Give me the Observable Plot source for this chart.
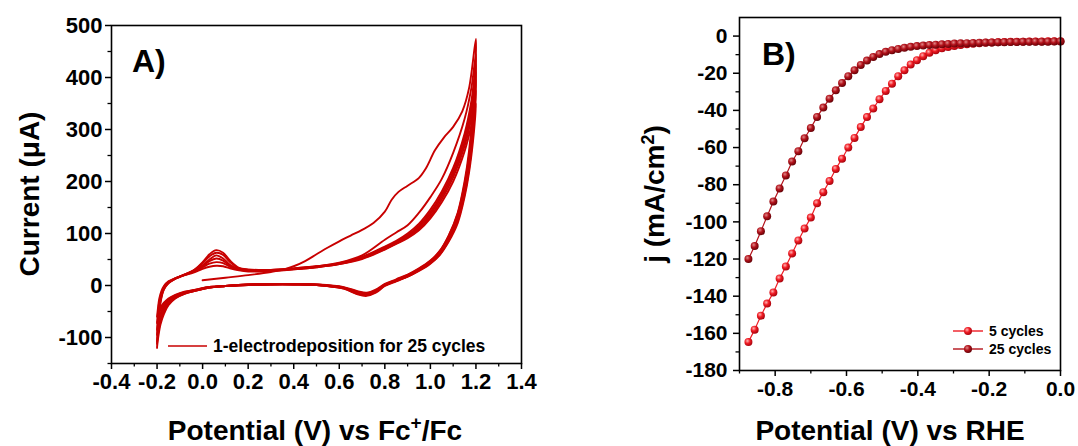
<!DOCTYPE html>
<html><head><meta charset="utf-8">
<script src="https://cdn.jsdelivr.net/npm/d3@7"></script>
<script src="https://cdn.jsdelivr.net/npm/@observablehq/plot@0.6"></script>
<style>
body{margin:0;background:#fff;}
#wrap{position:relative;width:1078px;height:446px;overflow:hidden;background:#fff;}
#wrap svg{position:absolute;}
</style></head><body><div id="wrap"></div>
<script>
// ---------- Panel A: CV electrodeposition (Current µA vs Potential V vs Fc+/Fc) ----------
const xTicksA = [-0.4, -0.2, 0.0, 0.2, 0.4, 0.6, 0.8, 1.0, 1.2, 1.4];
const xMinorA = [-0.3, -0.1, 0.1, 0.3, 0.5, 0.7, 0.9, 1.1, 1.3];
const yTicksA = [-100, 0, 100, 200, 300, 400, 500];
const yMinorA = [-150, -50, 50, 150, 250, 350, 450];

// first anodic scan (starts at 0.0 V) and its return
const cvFirstPotential = [0.0, 0.1, 0.2, 0.3, 0.35, 0.4, 0.45, 0.5, 0.55, 0.6, 0.65, 0.7, 0.75, 0.8, 0.83, 0.86, 0.9, 0.95, 0.98, 1.02, 1.06, 1.1, 1.14, 1.17, 1.2,
  1.19, 1.17, 1.15, 1.12, 1.08, 1.04, 1.0, 0.95, 0.9, 0.85, 0.8, 0.76, 0.72, 0.68, 0.62, 0.5, 0.4, 0.3, 0.2, 0.1, 0.03, -0.03, -0.08, -0.12, -0.15, -0.17, -0.185, -0.195, -0.2];
const cvFirstCurrent = [10, 15, 20, 26, 30, 37, 47, 60, 73, 85, 96, 107, 120, 142, 165, 180, 192, 207, 225, 260, 285, 305, 335, 380, 474,
  360, 260, 200, 140, 96, 66, 48, 33, 21, 12, 3, -8, -14, -11, -3, 2, 3, 3, 2, -1, -4, -10, -16, -24, -36, -52, -70, -92, -112];

// potential sweep of one full later cycle (-0.2 -> 1.2 -> -0.2)
const loopPotential = [-0.2, -0.195, -0.19, -0.18, -0.17, -0.15, -0.12, -0.08, -0.04, 0.0, 0.03, 0.06, 0.09, 0.12, 0.16, 0.2, 0.3, 0.4, 0.5, 0.6, 0.7, 0.8, 0.85, 0.9, 0.95, 1.0, 1.05, 1.1, 1.15, 1.18, 1.2,
  1.19, 1.17, 1.15, 1.12, 1.08, 1.04, 1.0, 0.95, 0.9, 0.85, 0.8, 0.76, 0.72, 0.68, 0.62, 0.5, 0.4, 0.3, 0.2, 0.1, 0.03, -0.03, -0.08, -0.12, -0.15, -0.17, -0.185, -0.195, -0.2];
const cycleACurrent = [-120, -75, -48, -22, -8, 4, 13, 21, 29, 45, 60, 68, 63, 48, 34, 31, 30, 33, 37, 44, 58, 88, 102, 116, 140, 170, 205, 255, 320, 380, 445,
  345, 250, 195, 138, 95, 65, 47, 32, 20, 11, 2, -10, -15, -12, -4, 2, 3, 3, 2, -1, -4, -10, -16, -25, -38, -55, -75, -100, -118];
const cycleBCurrent = [-108, -70, -45, -20, -7, 5, 13, 21, 29, 43, 56, 63, 59, 45, 33, 30, 30, 33, 37, 43, 55, 75, 86, 100, 119, 146, 181, 226, 292, 355, 425,
  335, 245, 190, 134, 92, 63, 46, 31, 19, 10, 1, -11, -16, -13, -4, 2, 3, 3, 2, -1, -4, -10, -15, -23, -34, -48, -66, -88, -106];
const cycleCCurrent = [-95, -62, -40, -18, -6, 5, 13, 21, 28, 39, 50, 58, 52, 40, 32, 30, 29, 32, 36, 42, 54, 73, 84, 97, 115, 141, 176, 220, 284, 345, 410,
  325, 238, 185, 130, 90, 62, 45, 30, 18, 10, 1, -11, -17, -14, -5, 1, 2, 2, 2, -1, -4, -9, -14, -21, -31, -43, -58, -76, -94];
const cycleDCurrent = [-85, -56, -36, -16, -5, 6, 13, 20, 27, 37, 47, 52, 48, 38, 31, 29, 29, 32, 36, 42, 53, 72, 83, 95, 112, 137, 171, 214, 276, 335, 395,
  315, 232, 180, 127, 88, 60, 44, 30, 18, 9, 0, -12, -18, -15, -5, 1, 2, 2, 1, -1, -3, -9, -14, -20, -29, -40, -53, -68, -84];
const cycleECurrent = [-72, -48, -30, -13, -3, 7, 14, 20, 26, 35, 42, 45, 43, 36, 30, 28, 28, 31, 35, 41, 52, 70, 81, 93, 109, 133, 166, 208, 268, 322, 375,
  305, 225, 175, 124, 86, 59, 43, 29, 17, 9, 0, -13, -19, -16, -6, 1, 2, 2, 1, -1, -3, -8, -13, -19, -27, -36, -47, -58, -70];
const cycleFCurrent = [-60, -40, -25, -10, -1, 8, 14, 20, 25, 32, 36, 38, 37, 33, 29, 27, 28, 31, 35, 41, 51, 69, 80, 91, 106, 129, 160, 200, 258, 308, 350,
  290, 218, 170, 120, 84, 58, 42, 28, 17, 8, -1, -14, -20, -17, -6, 1, 2, 2, 1, -1, -3, -8, -12, -18, -25, -33, -42, -52, -60];

// ---------- Panel B: LSV (j mA/cm2 vs Potential V vs RHE) ----------
const xTicksB = [-0.8, -0.6, -0.4, -0.2, 0.0];
const xMinorB = [-0.9, -0.7, -0.5, -0.3, -0.1];
const yTicksB = [-180, -160, -140, -120, -100, -80, -60, -40, -20, 0];
const yMinorB = [-170, -150, -130, -110, -90, -70, -50, -30, -10];
const lsvPotential = [-0.875, -0.8575, -0.84, -0.8225, -0.805, -0.7875, -0.77, -0.7525, -0.735, -0.7175,
  -0.7, -0.6825, -0.665, -0.6475, -0.63, -0.6125, -0.595, -0.5775, -0.56, -0.5425,
  -0.525, -0.5075, -0.49, -0.4725, -0.455, -0.4375, -0.42, -0.4025, -0.385, -0.3675,
  -0.35, -0.3325, -0.315, -0.2975, -0.28, -0.2625, -0.245, -0.2275, -0.21, -0.1925,
  -0.175, -0.1575, -0.14, -0.1225, -0.105, -0.0875, -0.07, -0.0525, -0.035, -0.0175, 0];
const j5Cycles = [-164.7, -158, -150.5, -144, -138, -130.5, -124, -117, -110, -103.6,
  -97.7, -90, -84, -78, -71.5, -66, -60, -54.8, -49, -43.6,
  -39, -34, -29.5, -25.6, -21.6, -18.4, -15.3, -13, -10.8, -9,
  -7.6, -6.6, -5.9, -5.3, -4.8, -4.4, -4.1, -3.8, -3.6, -3.4,
  -3.3, -3.2, -3.1, -3.0, -3.0, -2.9, -2.9, -2.9, -2.8, -2.8, -2.8];
const j25Cycles = [-120, -113, -105, -97, -89, -82, -75, -67.5, -62, -55,
  -49.5, -43.5, -38.5, -33.7, -29.2, -25.2, -21.6, -18.4, -15.5, -13.2,
  -11.2, -9.7, -8.5, -7.6, -6.9, -6.3, -5.8, -5.4, -5.1, -4.8,
  -4.6, -4.4, -4.2, -4.0, -3.9, -3.8, -3.7, -3.6, -3.5, -3.4,
  -3.3, -3.3, -3.2, -3.2, -3.1, -3.1, -3.0, -3.0, -3.0, -2.9, -2.9];

const seriesNames = ["5 cycles", "25 cycles"];
const cvColor = "#c80000";
const color5 = "#ee1c24", color25 = "#b3121b";

// ---------- build tables ----------
const cvRows = [];
cvFirstPotential.forEach((p, i) => cvRows.push({cycle: "first", potential: p, current: cvFirstCurrent[i]}));
[["A", cycleACurrent], ["B", cycleBCurrent], ["C", cycleCCurrent], ["D", cycleDCurrent], ["E", cycleECurrent], ["F", cycleFCurrent]]
  .forEach(([name, arr]) => loopPotential.forEach((p, i) => cvRows.push({cycle: name, potential: p, current: arr[i]})));

const lsvRows = [];
lsvPotential.forEach((p, i) => lsvRows.push({series: seriesNames[0], potential: p, j: j5Cycles[i]}));
lsvPotential.forEach((p, i) => lsvRows.push({series: seriesNames[1], potential: p, j: j25Cycles[i]}));

const FONT = "'Liberation Sans', Arial, Helvetica, sans-serif";
const wrap = document.getElementById("wrap");

const fmt1 = d => d.toFixed(1);
const fmt0 = d => String(d);

const plotA = Plot.plot({
  width: 540, height: 446,
  marginLeft: 111, marginRight: 19, marginTop: 25, marginBottom: 83,
  x: {domain: [-0.4, 1.4], label: null},
  y: {domain: [-150, 500], label: null},
  style: {fontFamily: FONT, fontWeight: "bold", fontSize: "22px", color: "#000", background: "transparent", overflow: "visible"},
  marks: [
    Plot.line(cvRows, {x: "potential", y: "current", z: "cycle", stroke: cvColor, strokeWidth: 1.9, curve: "catmull-rom"}),
    Plot.frame({stroke: "#000", strokeWidth: 1.6}),
    Plot.axisX(xTicksA, {tickSize: 6, tickPadding: 4, tickFormat: fmt1, strokeWidth: 1.5, label: null}),
    Plot.axisX(xMinorA, {tickSize: 3.5, tickFormat: () => "", strokeWidth: 1.3, label: null}),
    Plot.axisY(yTicksA, {tickSize: 6, tickPadding: 3, tickFormat: fmt0, strokeWidth: 1.5, label: null}),
    Plot.axisY(yMinorA, {tickSize: 3.5, tickFormat: () => "", strokeWidth: 1.3, label: null})
  ]
});
plotA.style.left = "0px"; plotA.style.top = "0px";
wrap.appendChild(plotA);

const plotB = Plot.plot({
  width: 538, height: 446,
  marginLeft: 199, marginRight: 18, marginTop: 17, marginBottom: 76,
  x: {domain: [-0.9, 0.0], label: null},
  y: {domain: [-180, 10], label: null},
  style: {fontFamily: FONT, fontWeight: "bold", fontSize: "21px", color: "#000", background: "transparent", overflow: "visible"},
  marks: [
    Plot.line(lsvRows, {x: "potential", y: "j", z: "series", stroke: d => d.series === seriesNames[0] ? color5 : color25, strokeWidth: 1.2}),
    Plot.dot(lsvRows.filter(d => d.series === seriesNames[0]), {x: "potential", y: "j", r: 4, fill: "url(#sph5)", stroke: "none"}),
    Plot.dot(lsvRows.filter(d => d.series === seriesNames[1]), {x: "potential", y: "j", r: 4, fill: "url(#sph25)", stroke: "none"}),
    Plot.frame({stroke: "#000", strokeWidth: 1.6}),
    Plot.axisX(xTicksB, {tickSize: 6, tickPadding: 5, tickFormat: fmt1, strokeWidth: 1.5, label: null}),
    Plot.axisX(xMinorB, {tickSize: 3.5, tickFormat: () => "", strokeWidth: 1.3, label: null}),
    Plot.axisY(yTicksB, {tickSize: 6, tickPadding: 6, tickFormat: fmt0, strokeWidth: 1.5, label: null}),
    Plot.axisY(yMinorB, {tickSize: 3.5, tickFormat: () => "", strokeWidth: 1.3, label: null})
  ]
});
plotB.style.left = "540px"; plotB.style.top = "0px";
wrap.appendChild(plotB);

// overlay: gradients, panel letters, axis titles, legends
const NS = "http://www.w3.org/2000/svg";
const ov = document.createElementNS(NS, "svg");
ov.setAttribute("width", 1078); ov.setAttribute("height", 446);
ov.style.left = "0px"; ov.style.top = "0px";
ov.setAttribute("font-family", FONT);
ov.setAttribute("font-weight", "bold");
ov.innerHTML = `
<defs>
  <radialGradient id="sph5" cx="0.38" cy="0.35" r="0.7">
    <stop offset="0" stop-color="#ffb4b4"/><stop offset="0.45" stop-color="#f01c24"/><stop offset="1" stop-color="#a0000a"/>
  </radialGradient>
  <radialGradient id="sph25" cx="0.38" cy="0.35" r="0.7">
    <stop offset="0" stop-color="#e08a8a"/><stop offset="0.45" stop-color="#b3121b"/><stop offset="1" stop-color="#5e0005"/>
  </radialGradient>
</defs>
<text x="132" y="72" font-size="32">A)</text>
<text x="762" y="65" font-size="32">B)</text>
<text transform="translate(39,194) rotate(-90)" text-anchor="middle" font-size="28">Current (μA)</text>
<text x="315" y="440" text-anchor="middle" font-size="28">Potential (V) vs Fc<tspan dy="-11" font-size="19">+</tspan><tspan dy="11">/Fc</tspan></text>
<text transform="translate(664,194) rotate(-90)" text-anchor="middle" font-size="28">j (mA/cm<tspan dy="-10" font-size="18">2</tspan><tspan dy="10">)</tspan></text>
<text x="890" y="440" text-anchor="middle" font-size="28">Potential (V) vs RHE</text>
<line x1="168" x2="207" y1="346" y2="346" stroke="${cvColor}" stroke-width="1.6"/>
<text x="213" y="352" font-size="17.5">1-electrodeposition for 25 cycles</text>
<line x1="953" x2="983" y1="331" y2="331" stroke="${color5}" stroke-width="1.4"/>
<circle cx="968" cy="331" r="4" fill="url(#sph5)"/>
<text x="989" y="336" font-size="14">${seriesNames[0]}</text>
<line x1="953" x2="983" y1="349" y2="349" stroke="${color25}" stroke-width="1.4"/>
<circle cx="968" cy="349" r="4" fill="url(#sph25)"/>
<text x="989" y="354" font-size="14">${seriesNames[1]}</text>
`;
wrap.appendChild(ov);
</script></body></html>
